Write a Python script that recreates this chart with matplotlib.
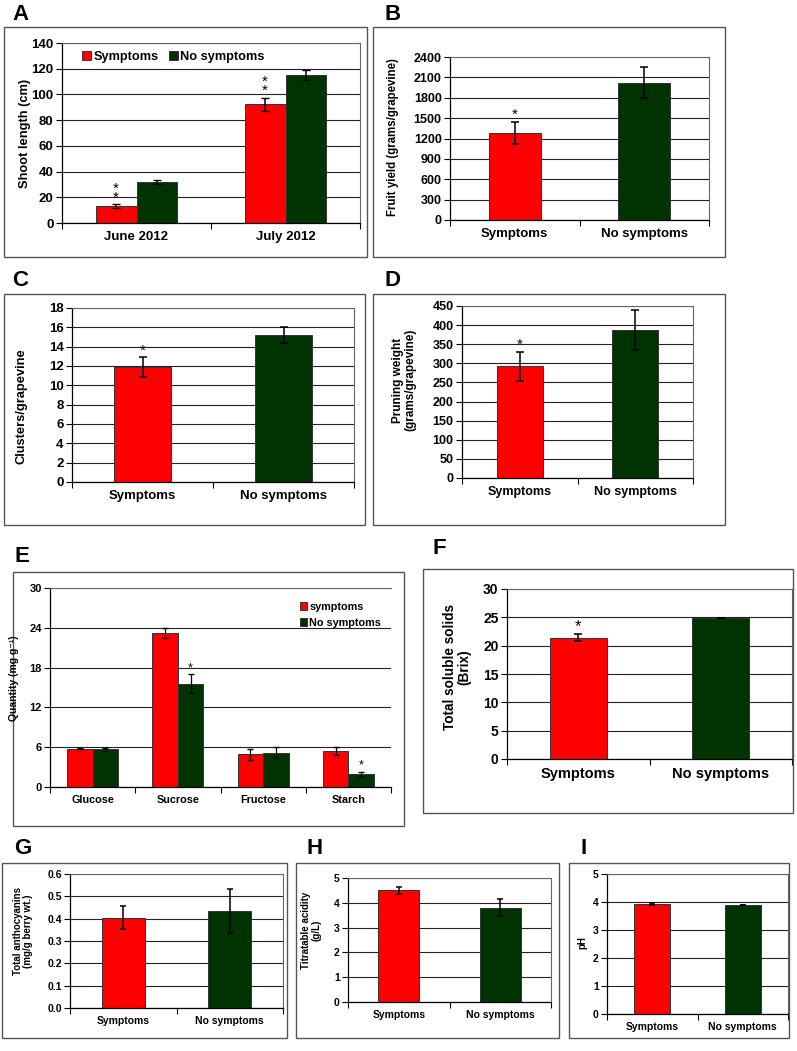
import matplotlib
matplotlib.use("Agg")
import matplotlib.pyplot as plt
from matplotlib.patches import Rectangle
import numpy as np

plt.rcParams['font.family'] = ['Liberation Sans', 'DejaVu Sans']
plt.rcParams['font.weight'] = 'bold'

W, H = 797, 1051
RED = '#ff0000'
GREEN = '#013301'

groups2 = ['Symptoms', 'No symptoms']

# A: shoot length
months = ['June 2012', 'July 2012']
shoot_sym = [13, 92.5]
shoot_sym_err = [1.5, 5]
shoot_no = [32, 115]
shoot_no_err = [1.5, 4]

# B: fruit yield
fruit = [1280, 2020]
fruit_err = [160, 230]

# C: clusters
clusters = [11.9, 15.2]
clusters_err = [1.0, 0.85]

# D: pruning weight
pruning = [292, 387]
pruning_err = [38, 52]

# E: sugars
sugars = ['Glucose', 'Sucrose', 'Fructose', 'Starch']
sugar_sym = [5.8, 23.2, 4.9, 5.4]
sugar_sym_err = [0.1, 0.8, 0.9, 0.6]
sugar_no = [5.7, 15.6, 5.2, 1.9]
sugar_no_err = [0.25, 1.4, 0.8, 0.4]
sugar_star = [False, True, False, True]

# F: total soluble solids
brix = [21.4, 24.9]
brix_err = [0.6, 0.0]

# G: anthocyanins
antho = [0.405, 0.435]
antho_err = [0.05, 0.1]

# H: titratable acidity
acid = [4.5, 3.8]
acid_err = [0.15, 0.35]

# I: pH
ph = [3.93, 3.89]
ph_err = [0.04, 0.01]

fig = plt.figure(figsize=(W / 100, H / 100), dpi=100)


def rect(x0, y0, x1, y1):
    return [x0 / W, 1 - y1 / H, (x1 - x0) / W, (y1 - y0) / H]


def box(x0, y0, x1, y1):
    fig.patches.append(Rectangle((x0 / W, 1 - y1 / H), (x1 - x0) / W, (y1 - y0) / H,
                                 transform=fig.transFigure, fill=False,
                                 edgecolor='#555555', linewidth=1.0))


def letter(x, y, s):
    fig.text(x / W, 1 - y / H, s, fontsize=16, fontweight='bold', ha='left', va='center')


def ylab(x, y, s, fs):
    fig.text(x / W, 1 - y / H, s, fontsize=fs, fontweight='bold', rotation=90,
             ha='center', va='center', linespacing=1.0)


def style(ax, n, ymax, step, fs, xfs, fmt=None):
    ax.set_xlim(-0.5, n - 0.5)
    ax.set_ylim(0, ymax)
    ax.set_yticks(np.arange(0, ymax + step / 2, step))
    if fmt:
        ax.set_yticklabels([fmt.format(v) for v in np.arange(0, ymax + step / 2, step)])
    ax.set_xticks(range(n))
    ax.set_xticks(np.arange(-0.5, n, 1.0), minor=True)
    ax.tick_params(axis='x', which='major', length=0, labelsize=xfs, pad=6)
    ax.tick_params(axis='x', which='minor', length=4, direction='out', width=0.8)
    ax.tick_params(axis='y', length=4, direction='out', width=0.8, labelsize=fs, pad=2)
    for lab in ax.get_xticklabels() + ax.get_yticklabels():
        lab.set_fontweight('bold')
    ax.yaxis.grid(True, color='#222222', linewidth=0.8)
    ax.set_axisbelow(True)
    for s in ['left', 'bottom']:
        ax.spines[s].set_color('black')
        ax.spines[s].set_linewidth(0.9)
    for s in ['top', 'right']:
        ax.spines[s].set_color('#666666')
        ax.spines[s].set_linewidth(0.8)


def two_bar(ax, vals, errs, width=0.4, cap=3):
    x = np.arange(2)
    ax.bar(x, vals, width, color=[RED, GREEN], edgecolor='#333333', linewidth=0.7, zorder=2)
    ax.errorbar(x, vals, yerr=errs, fmt='none', ecolor='black', elinewidth=1.1,
                capsize=cap, capthick=1.1, zorder=3)
    return x


def star(ax, x, top, fs, n=1):
    ax.annotate('\n'.join(['*'] * n), (x, top), xytext=(0, 0), textcoords='offset points',
                ha='center', va='bottom', fontsize=fs, fontweight='normal',
                linespacing=0.55)


# ---- A ----
box(4, 27, 367, 257)
letter(12, 15, 'A')
axA = fig.add_axes(rect(62, 43, 360, 223))
x = np.arange(2)
bw = 0.275
axA.bar(x - bw / 2, shoot_sym, bw, color=RED, edgecolor='#333333', linewidth=0.7, zorder=2, label='Symptoms')
axA.bar(x + bw / 2, shoot_no, bw, color=GREEN, edgecolor='#333333', linewidth=0.7, zorder=2, label='No symptoms')
axA.errorbar(x - bw / 2, shoot_sym, yerr=shoot_sym_err, fmt='none', ecolor='black', elinewidth=1.1, capsize=3, zorder=3)
axA.errorbar(x + bw / 2, shoot_no, yerr=shoot_no_err, fmt='none', ecolor='black', elinewidth=1.1, capsize=3, zorder=3)
style(axA, 2, 140, 20, 9.5, 9.5)
axA.set_xticklabels(months)
for i in range(2):
    star(axA, x[i] - bw / 2, shoot_sym[i] + shoot_sym_err[i], 11, n=2)
leg = axA.legend(loc='upper left', bbox_to_anchor=(0.03, 1.02), ncol=2, frameon=False,
                 handlelength=0.7, handleheight=0.7, handletextpad=0.15, columnspacing=0.8,
                 prop={'size': 9.2, 'weight': 'bold'})
ylab(25, 133, 'Shoot length (cm)', 9.3)

# ---- B ----
box(373, 27, 725, 257)
letter(384, 15, 'B')
axB = fig.add_axes(rect(450, 57, 709, 220))
xb = two_bar(axB, fruit, fruit_err)
style(axB, 2, 2400, 300, 9, 9.5)
axB.set_xticklabels(groups2)
star(axB, xb[0], fruit[0] + fruit_err[0], 11)
ylab(393, 137, 'Fruit yield (grams/grapevine)', 8.3)

# ---- C ----
box(4, 294, 365, 525)
letter(12, 281, 'C')
axC = fig.add_axes(rect(72, 308, 354, 482))
xc = two_bar(axC, clusters, clusters_err)
style(axC, 2, 18, 2, 9.5, 9.5)
axC.set_xticklabels(groups2)
star(axC, xc[0], clusters[0] + clusters_err[0], 11)
ylab(22, 406, 'Clusters/grapevine', 9.3)

# ---- D ----
box(373, 294, 725, 525)
letter(384, 281, 'D')
axD = fig.add_axes(rect(462, 306, 693, 478))
xd = two_bar(axD, pruning, pruning_err)
style(axD, 2, 450, 50, 9, 9)
axD.set_xticklabels(groups2)
star(axD, xd[0], pruning[0] + pruning_err[0], 11)
ylab(404, 380, 'Pruning weight\n(grams/grapevine)', 8.5)

# ---- E ----
box(13, 572, 404, 826)
letter(15, 556, 'E')
axE = fig.add_axes(rect(50, 588, 391, 787))
xe = np.arange(4)
bw = 0.3
axE.bar(xe - bw / 2, sugar_sym, bw, color=RED, edgecolor='#333333', linewidth=0.7, zorder=2, label='symptoms')
axE.bar(xe + bw / 2, sugar_no, bw, color=GREEN, edgecolor='#333333', linewidth=0.7, zorder=2, label='No symptoms')
axE.errorbar(xe - bw / 2, sugar_sym, yerr=sugar_sym_err, fmt='none', ecolor='black', elinewidth=0.9, capsize=2, zorder=3)
axE.errorbar(xe + bw / 2, sugar_no, yerr=sugar_no_err, fmt='none', ecolor='black', elinewidth=0.9, capsize=2, zorder=3)
style(axE, 4, 30, 6, 8, 7.8)
axE.set_xticklabels(sugars)
axE.spines['right'].set_visible(False)
for i in range(4):
    if sugar_star[i]:
        star(axE, xe[i] + bw / 2, sugar_no[i] + sugar_no_err[i], 9)
axE.legend(loc='upper right', bbox_to_anchor=(1.0, 0.98), frameon=False,
           handlelength=0.7, handleheight=0.7, handletextpad=0.2, labelspacing=0.55,
           prop={'size': 7.8, 'weight': 'bold'})
ylab(14, 678, 'Quantity (mg g\u207b\u00b9)', 7.5)

# ---- F ----
box(423, 569, 793, 813)
letter(432, 548, 'F')
axF = fig.add_axes(rect(507, 589, 792, 759))
xf = two_bar(axF, brix, brix_err)
style(axF, 2, 30, 5, 10, 10.5)
axF.set_xticklabels(groups2)
star(axF, xf[0], brix[0] + brix_err[0], 12)
ylab(457, 667, 'Total soluble solids\n(Brix)', 9.8)

# ---- G ----
box(2, 863, 287, 1038)
letter(14, 848, 'G')
axG = fig.add_axes(rect(70, 874, 283, 1008))
two_bar(axG, antho, antho_err, cap=2)
style(axG, 2, 0.6, 0.1, 7.5, 7.5, fmt='{:.1f}')
axG.set_xticklabels(groups2)
ylab(23, 931, 'Total anthocyanins\n(mg/g berry wt.)', 7)

# ---- H ----
box(296, 863, 559, 1038)
letter(307, 848, 'H')
axH = fig.add_axes(rect(348, 878, 551, 1002))
two_bar(axH, acid, acid_err, cap=2)
style(axH, 2, 5, 1, 7.5, 7.5)
axH.set_xticklabels(groups2)
ylab(311, 930, 'Titratable acidity\n(g/L)', 7)

# ---- I ----
box(569, 863, 789, 1038)
letter(580, 848, 'I')
axI = fig.add_axes(rect(607, 874, 788, 1014))
two_bar(axI, ph, ph_err, cap=2)
style(axI, 2, 5, 1, 7.5, 7.5)
axI.set_xticklabels(groups2)
ylab(582, 943, 'pH', 7)

fig.savefig('out.png', dpi=100)
